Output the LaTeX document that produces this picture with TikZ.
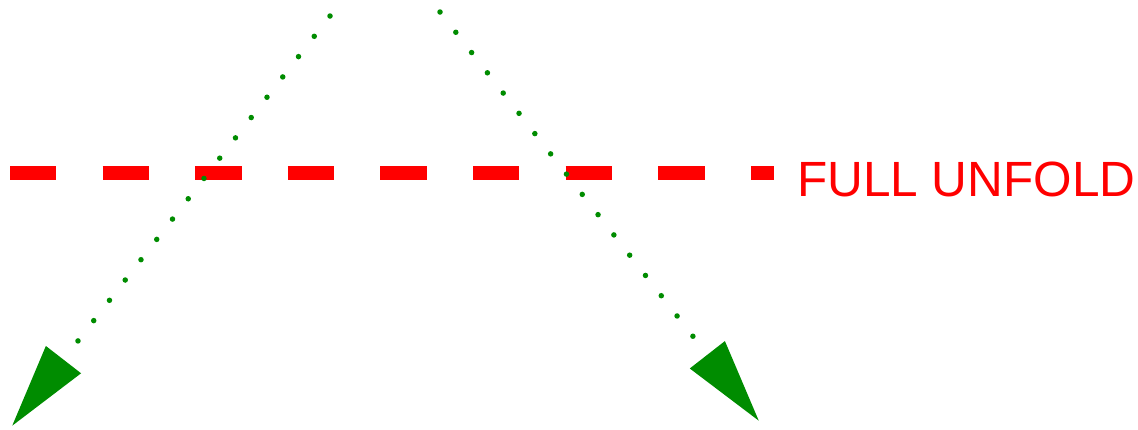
\documentclass[tikz,border=0pt]{standalone}
\usepackage{fontspec}
\setmainfont{Liberation Sans}
\usetikzlibrary{arrows.meta}
\definecolor{foldred}{RGB}{255,0,0}
\definecolor{creasegreen}{RGB}{0,140,0}

\begin{document}
\begin{tikzpicture}[x=1pt,y=-1pt,
    unfoldline/.style={draw=foldred,line width=14pt,dash pattern=on 46.3pt off 46.3pt},
    creaseline/.style={draw=creasegreen,line width=5.5pt,line cap=round,dash pattern=on 0pt off 25.7pt,
      -{Triangle[length=84pt 0,width=43pt 0,fill=creasegreen]}}]
  \useasboundingbox (0,0) rectangle (1138,429);
  \begin{scope}
    \coordinate (unfoldstart) at (10,173);
    \coordinate (unfoldend) at (774,173);
    \coordinate (leftstart) at (330,16);
    \coordinate (lefttip) at (12,426);
    \coordinate (rightstart) at (440,12);
    \coordinate (righttip) at (759,421);
    \draw[unfoldline] (unfoldstart) -- (unfoldend);
    \node[anchor=base west,text=foldred,font=\fontsize{49.5}{60}\selectfont,inner sep=0pt] (unfoldlabel) at (797,196) {FULL UNFOLD};
    \draw[creaseline] (leftstart) -- (lefttip);
    \draw[creaseline] (rightstart) -- (righttip);
  \end{scope}
\end{tikzpicture}
\end{document}
